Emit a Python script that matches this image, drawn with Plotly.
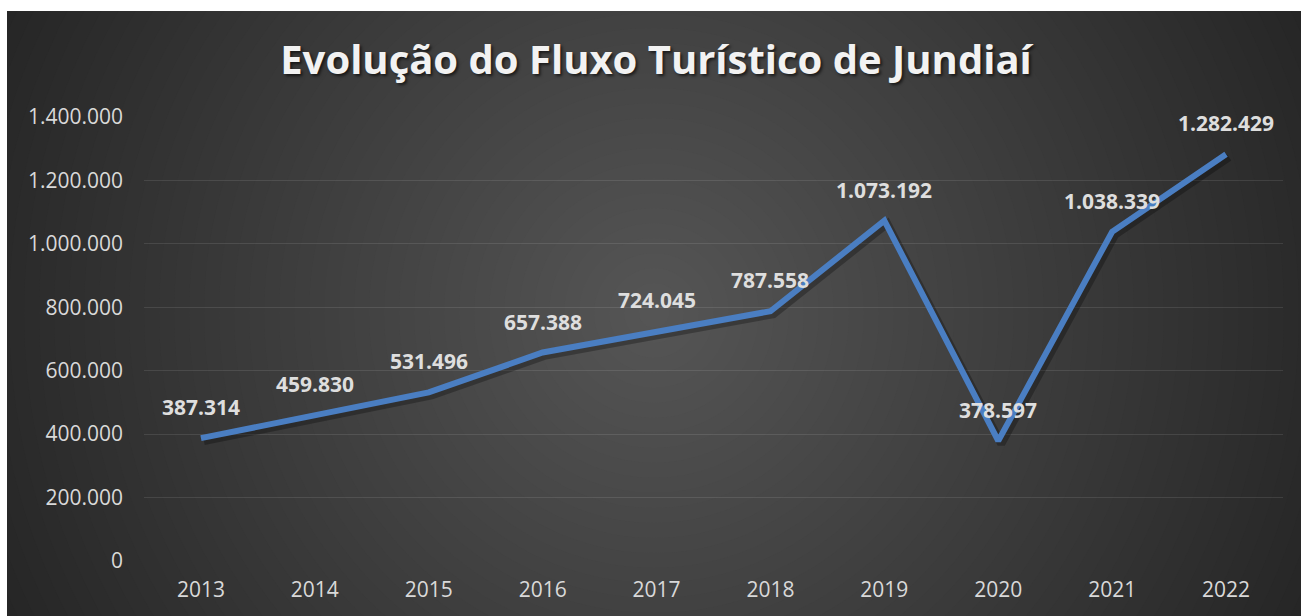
import plotly.graph_objects as go

years = ["2013", "2014", "2015", "2016", "2017", "2018", "2019", "2020", "2021", "2022"]
visitors = [387314, 459830, 531496, 657388, 724045, 787558, 1073192, 378597, 1038339, 1282429]
y_ticks = [0, 200000, 400000, 600000, 800000, 1000000, 1200000, 1400000]
title_text = "Evolução do Fluxo Turístico de Jundiaí"


def fmt(v):
    return f"{v:,}".replace(",", ".")


W, H = 1301, 616
L, R, T, B = 144, 18, 117, 55
PW, PH = W - L - R, H - T - B
YMAX = 1400000


def px(x):
    return (x - L) / PW


def py(y):
    return (H - B - y) / PH


shapes = []
# radial gradient background approximated with concentric circles
cx, cy = 654, 313
Rmax = 720
edge, center = 38, 86
N = 48
for k in range(N):
    r = Rmax * (1 - k / N)
    lv = round(edge + (center - edge) * k / N)
    shapes.append(dict(type="circle", xref="paper", yref="paper",
                       x0=px(cx - r), x1=px(cx + r), y0=py(cy + r), y1=py(cy - r),
                       fillcolor=f"rgb({lv},{lv},{lv})", line=dict(width=0), layer="below"))
# white bands at top and left
shapes.append(dict(type="rect", xref="paper", yref="paper", x0=px(-50), x1=px(W + 50),
                   y0=py(11), y1=py(-300), fillcolor="white", line=dict(width=0), layer="below"))
shapes.append(dict(type="rect", xref="paper", yref="paper", x0=px(-300), x1=px(7),
                   y0=py(H + 50), y1=py(-50), fillcolor="white", line=dict(width=0), layer="below"))

n = len(years)
dx = 3 / (PW / n)          # shadow offset: 3px right
dy = 3 * YMAX / PH         # shadow offset: 3px down

fig = go.Figure()
# soft shadow of the line (same data on slightly offset overlay axes)
fig.add_trace(go.Scatter(
    x=years, y=visitors, mode="lines", xaxis="x2", yaxis="y2",
    line=dict(color="rgba(0,0,0,0.28)", width=8),
    hoverinfo="skip", showlegend=False,
))
# main line, on an overlay drawn above the shadow
fig.add_trace(go.Scatter(
    x=years, y=visitors, mode="lines", xaxis="x3", yaxis="y3",
    line=dict(color="#4a7ec2", width=6),
    hoverinfo="skip", showlegend=False,
))

annotations = []
for i, v in enumerate(visitors):
    annotations.append(dict(x=i, y=v, xref="x", yref="y", text=fmt(v), showarrow=False,
                            yanchor="middle", yshift=31,
                            font=dict(family="Open Sans", size=21, color="#dedede", weight="bold")))

fig.update_layout(
    width=W, height=H,
    margin=dict(l=L, r=R, t=T, b=B),
    paper_bgcolor="white",
    plot_bgcolor="rgba(0,0,0,0)",
    separators=",.",
    shapes=shapes,
    annotations=annotations,
    title=dict(text=title_text, x=656 / W, xanchor="center", xref="container",
               y=1 - 60 / H, yanchor="middle", yref="container",
               font=dict(family="Open Sans", size=40, color="#f2f2f2", weight="bold",
                         shadow="2px 2px 3px rgba(0,0,0,0.6)")),
    xaxis=dict(type="category", categoryarray=years, range=[-0.5, n - 0.5], autorange=False,
               showgrid=False, showline=False, zeroline=False,
               ticks="", ticklabelstandoff=14,
               tickfont=dict(family="Open Sans", size=21, color="#d9d9d9")),
    yaxis=dict(range=[0, YMAX], autorange=False, tickvals=y_ticks, tickformat=",d",
               showgrid=True, gridcolor="rgba(255,255,255,0.10)", gridwidth=1,
               zeroline=False, showline=False, ticks="", ticklabelstandoff=20,
               tickfont=dict(family="Open Sans", size=21, color="#d9d9d9")),
    xaxis2=dict(type="category", overlaying="x", range=[-0.5 - dx, n - 0.5 - dx],
                autorange=False, visible=False),
    yaxis2=dict(overlaying="y", range=[dy, YMAX + dy], autorange=False, visible=False),
    xaxis3=dict(type="category", overlaying="x", range=[-0.5, n - 0.5],
                autorange=False, visible=False),
    yaxis3=dict(overlaying="y", range=[0, YMAX], autorange=False, visible=False),
)

fig.write_html("out.html", config={"displayModeBar": False},
               post_script="document.body.style.margin='0';")
